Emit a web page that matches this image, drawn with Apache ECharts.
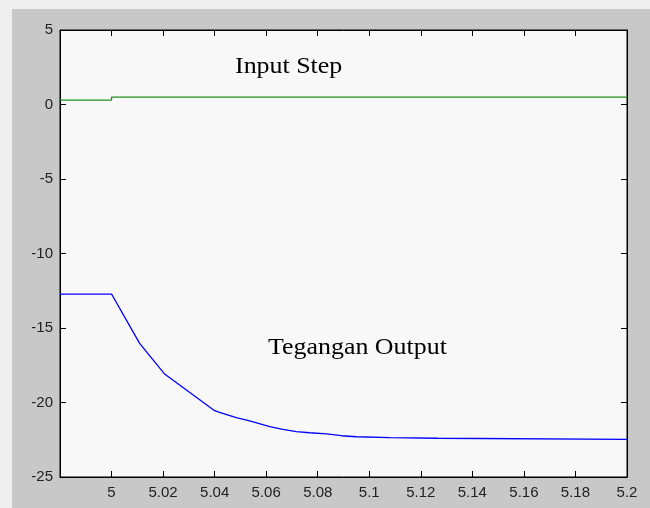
<!DOCTYPE html>
<html>
<head>
<meta charset="utf-8">
<script src="https://cdn.jsdelivr.net/npm/echarts@6/dist/echarts.min.js"></script>
<style>
  html, body { margin: 0; padding: 0; background: #efefef; }
  #chart { width: 650px; height: 508px; }
</style>
</head>
<body>
<div id="chart"></div>
<script>
// Time axis (s) and tick settings
const xMin = 4.98, xMax = 5.2, xStep = 0.02;
const yMin = -25, yMax = 5, yStep = 5;

// Step input: time / value pairs
const stepTime  = [4.98, 5.0, 5.0, 5.2];
const stepValue = [0.3, 0.3, 0.5, 0.5];

// Output voltage response
const outTime  = [4.98, 5.0, 5.0109, 5.0206, 5.040, 5.0419, 5.0484, 5.0536, 5.0614, 5.0665,
                  5.0717, 5.0769, 5.0834, 5.0892, 5.0950, 5.1080, 5.1267, 5.1274, 5.2];
const outValue = [-12.72, -12.72, -16.03, -18.09, -20.55, -20.66, -21.02, -21.24, -21.62, -21.80,
                  -21.96, -22.03, -22.11, -22.23, -22.30, -22.36, -22.40, -22.47, -22.47];

const pair = (xs, ys) => xs.map((x, i) => [x, ys[i]]);

const chart = echarts.init(document.getElementById('chart'), null, { renderer: 'canvas' });

const tickFont = { color: '#222', fontSize: 15, fontFamily: 'Liberation Sans, Arial, sans-serif' };

const xCommon = {
  type: 'value', min: xMin, max: xMax, interval: xStep,
  axisLine: { show: true, onZero: false, lineStyle: { color: '#000', width: 1 } },
  axisTick: { show: true, inside: true, length: 6, lineStyle: { color: '#000' } },
  splitLine: { show: false }
};
const yCommon = {
  type: 'value', min: yMin, max: yMax, interval: yStep,
  axisLine: { show: true, onZero: false, lineStyle: { color: '#000', width: 1 } },
  axisTick: { show: true, inside: true, length: 6, lineStyle: { color: '#000' } },
  splitLine: { show: false }
};

chart.setOption({
  backgroundColor: '#efefef',
  animation: false,
  grid: {
    left: 60, top: 30, right: 23, bottom: 31,
    show: true, backgroundColor: '#f8f8f8', borderColor: '#000', borderWidth: 1
  },
  graphic: [
    {
      type: 'rect', z: -10, silent: true,
      shape: { x: 12, y: 9, width: 638, height: 499 },
      style: { fill: '#c8c8c8' }
    },
    {
      type: 'text', z: 100, x: 235, y: 79, scaleX: 1.08,
      style: { text: 'Input Step', font: '24px "Liberation Serif", "Times New Roman", serif',
               fill: '#000', verticalAlign: 'bottom', align: 'left' }
    },
    {
      type: 'text', z: 100, x: 268, y: 360, scaleX: 1.08,
      style: { text: 'Tegangan Output', font: '24px "Liberation Serif", "Times New Roman", serif',
               fill: '#000', verticalAlign: 'bottom', align: 'left' }
    }
  ],
  xAxis: [
    Object.assign({}, xCommon, {
      position: 'bottom',
      axisLabel: Object.assign({ show: true, margin: 8, showMinLabel: false }, tickFont)
    }),
    Object.assign({}, xCommon, { position: 'top', axisLabel: { show: false } })
  ],
  yAxis: [
    Object.assign({}, yCommon, {
      position: 'left',
      axisLabel: Object.assign({ show: true, margin: 7 }, tickFont)
    }),
    Object.assign({}, yCommon, { position: 'right', axisLabel: { show: false } })
  ],
  series: [
    {
      name: 'Input Step', type: 'line', xAxisIndex: 0, yAxisIndex: 0,
      data: pair(stepTime, stepValue), showSymbol: false,
      lineStyle: { color: '#1f8f1f', width: 1.3 }
    },
    {
      name: 'Tegangan Output', type: 'line', xAxisIndex: 0, yAxisIndex: 0,
      data: pair(outTime, outValue), showSymbol: false,
      lineStyle: { color: '#0000ff', width: 1.3 }
    }
  ]
});
</script>
</body>
</html>
